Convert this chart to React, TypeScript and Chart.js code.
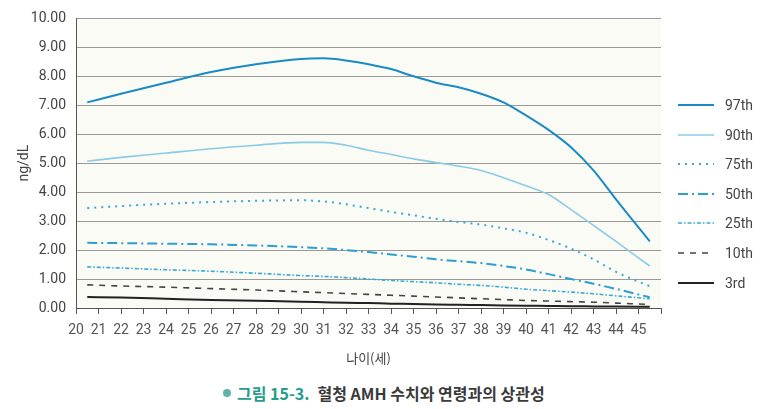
import React, { useEffect, useRef } from 'react';
import { Chart, registerables } from 'chart.js';

Chart.register(...registerables);

// ---- data ----
const ages = [20.5, 22, 24, 26, 28, 30, 31, 32, 33, 34, 35, 36, 37, 38, 39, 40, 41, 42, 43, 44, 45.5];
const p97 = [7.1, 7.4, 7.78, 8.15, 8.42, 8.6, 8.62, 8.55, 8.42, 8.25, 8.0, 7.78, 7.62, 7.4, 7.1, 6.65, 6.15, 5.55, 4.75, 3.75, 2.3];
const p90 = [5.07, 5.2, 5.35, 5.5, 5.62, 5.72, 5.72, 5.62, 5.45, 5.3, 5.15, 5.02, 4.9, 4.75, 4.5, 4.22, 3.92, 3.4, 2.85, 2.3, 1.45];
const p75 = [3.45, 3.52, 3.6, 3.66, 3.7, 3.72, 3.68, 3.58, 3.45, 3.32, 3.2, 3.08, 2.97, 2.88, 2.75, 2.6, 2.35, 2.05, 1.68, 1.25, 0.75];
const p50 = [2.25, 2.24, 2.22, 2.2, 2.16, 2.1, 2.06, 2.0, 1.93, 1.85, 1.77, 1.68, 1.62, 1.55, 1.45, 1.33, 1.17, 1.0, 0.84, 0.66, 0.37];
const p25 = [1.42, 1.38, 1.32, 1.27, 1.2, 1.12, 1.09, 1.05, 1.0, 0.95, 0.91, 0.87, 0.82, 0.78, 0.72, 0.65, 0.6, 0.55, 0.49, 0.42, 0.32];
const p10 = [0.8, 0.76, 0.72, 0.67, 0.62, 0.56, 0.53, 0.5, 0.47, 0.44, 0.41, 0.38, 0.35, 0.32, 0.29, 0.26, 0.24, 0.22, 0.2, 0.17, 0.12];
const p3 = [0.38, 0.36, 0.32, 0.28, 0.25, 0.22, 0.2, 0.18, 0.17, 0.15, 0.14, 0.12, 0.11, 0.1, 0.09, 0.08, 0.07, 0.06, 0.055, 0.05, 0.04];

const seriesNames = ['97th', '90th', '75th', '50th', '25th', '10th', '3rd'];
const seriesValues = [p97, p90, p75, p50, p25, p10, p3];

const xMin = 20;
const xMax = 46;
const xLastLabel = 45;
const yMin = 0;
const yMax = 10;

const xTitle = '나이(세)';
const yTitle = 'ng/dL';
const captionLead = '그림 15-3.';
const captionText = '혈청 AMH 수치와 연령과의 상관성';

// ---- styles ----
const seriesStyles = [
  { color: '#1b8bc6', width: 2, dash: [] as number[] },
  { color: '#8ccbe6', width: 1.6, dash: [] as number[] },
  { color: '#38a8d6', width: 2, dash: [2, 5] },
  { color: '#2a9fd0', width: 2, dash: [10, 4, 2, 4] },
  { color: '#38a8d6', width: 1.6, dash: [4, 2, 1.5, 2] },
  { color: '#444444', width: 1.6, dash: [6, 6] },
  { color: '#222222', width: 2, dash: [] as number[] },
];

const NARROW = "'Liberation Sans Narrow', 'Arial Narrow', Roboto, sans-serif";
const KR = "'Noto Sans CJK KR', 'Noto Sans', sans-serif";

const bgPlugin = {
  id: 'plotBg',
  beforeDraw(chart: any) {
    const { ctx, chartArea } = chart;
    if (!chartArea) return;
    ctx.save();
    ctx.fillStyle = '#fbfbf5';
    ctx.fillRect(chartArea.left, chartArea.top, chartArea.right - chartArea.left, chartArea.bottom - chartArea.top);
    ctx.restore();
  },
};

export default function App() {
  const canvasRef = useRef<HTMLCanvasElement | null>(null);

  useEffect(() => {
    const canvas = canvasRef.current;
    if (!canvas) return;
    const chart = new Chart(canvas, {
      type: 'line',
      data: {
        datasets: seriesNames.map((name, i) => ({
          label: name,
          data: ages.map((a, j) => ({ x: a, y: seriesValues[i][j] })),
          borderColor: seriesStyles[i].color,
          backgroundColor: seriesStyles[i].color,
          borderWidth: seriesStyles[i].width,
          borderDash: seriesStyles[i].dash,
          pointRadius: 0,
          fill: false,
          cubicInterpolationMode: 'monotone' as const,
        })),
      },
      plugins: [bgPlugin],
      options: {
        animation: false,
        responsive: false,
        maintainAspectRatio: false,
        layout: { padding: { left: 12, right: 100, top: 10, bottom: 0 } },
        plugins: {
          legend: { display: false },
          tooltip: { enabled: false },
        },
        scales: {
          x: {
            type: 'linear',
            min: xMin,
            max: xMax,
            afterFit(scale: any) {
              scale.height = 62;
            },
            ticks: {
              stepSize: 1,
              autoSkip: false,
              maxRotation: 0,
              color: '#555',
              padding: 8,
              font: { family: NARROW, size: 14 },
              callback: (v: any) => (Number(v) > xLastLabel ? '' : String(v)),
            },
            grid: { drawOnChartArea: false, color: '#555', tickLength: 6 },
            border: { color: '#555', width: 1 },
            title: {
              display: true,
              text: xTitle,
              color: '#444',
              font: { family: KR, size: 13 },
              padding: { top: 4, bottom: 4 },
            },
          },
          y: {
            min: yMin,
            max: yMax,
            afterFit(scale: any) {
              scale.width = 64;
            },
            ticks: {
              stepSize: 1,
              color: '#444',
              padding: 10,
              font: { family: NARROW, size: 14 },
              callback: (v: any) => Number(v).toFixed(2),
            },
            grid: { color: '#9a9a9a', drawTicks: false, lineWidth: 1 },
            border: { color: '#555', width: 1 },
            title: {
              display: true,
              text: yTitle,
              color: '#444',
              font: { family: NARROW, size: 14 },
              padding: { top: 4, bottom: 4 },
            },
          },
        },
      },
    });
    return () => chart.destroy();
  }, []);

  const legendTop = 105;
  const legendStep = 29.6;

  return (
    <div style={{ position: 'absolute', left: 0, top: 0, width: 761, height: 409, background: '#ffffff', overflow: 'hidden' }}>
      <canvas ref={canvasRef} width={761} height={370} style={{ position: 'absolute', left: 0, top: 0, width: 761, height: 370 }} />
      {seriesNames.map((name, i) => (
        <div key={name} style={{ position: 'absolute', left: 678, top: legendTop + i * legendStep - 10, height: 20, display: 'flex', alignItems: 'center' }}>
          <svg width={36} height={6} style={{ display: 'block' }}>
            <line x1={0} y1={3} x2={36} y2={3} stroke={seriesStyles[i].color} strokeWidth={seriesStyles[i].width} strokeDasharray={seriesStyles[i].dash.length ? seriesStyles[i].dash.join(' ') : undefined} />
          </svg>
          <span style={{ marginLeft: 11, fontFamily: NARROW, fontSize: 14, color: '#444', lineHeight: '20px' }}>{name}</span>
        </div>
      ))}
      <div style={{ position: 'absolute', left: 223, top: 382, height: 22, display: 'flex', alignItems: 'center', fontFamily: KR, fontWeight: 700, fontSize: 16, lineHeight: '22px', whiteSpace: 'nowrap' }}>
        <span style={{ display: 'inline-block', width: 8, height: 8, borderRadius: 4, background: '#5fb3a8', marginRight: 6 }} />
        <span style={{ color: '#239d8c' }}>{captionLead}</span>
        <span style={{ color: '#3a3a3a', marginLeft: 8 }}>{captionText}</span>
      </div>
    </div>
  );
}
